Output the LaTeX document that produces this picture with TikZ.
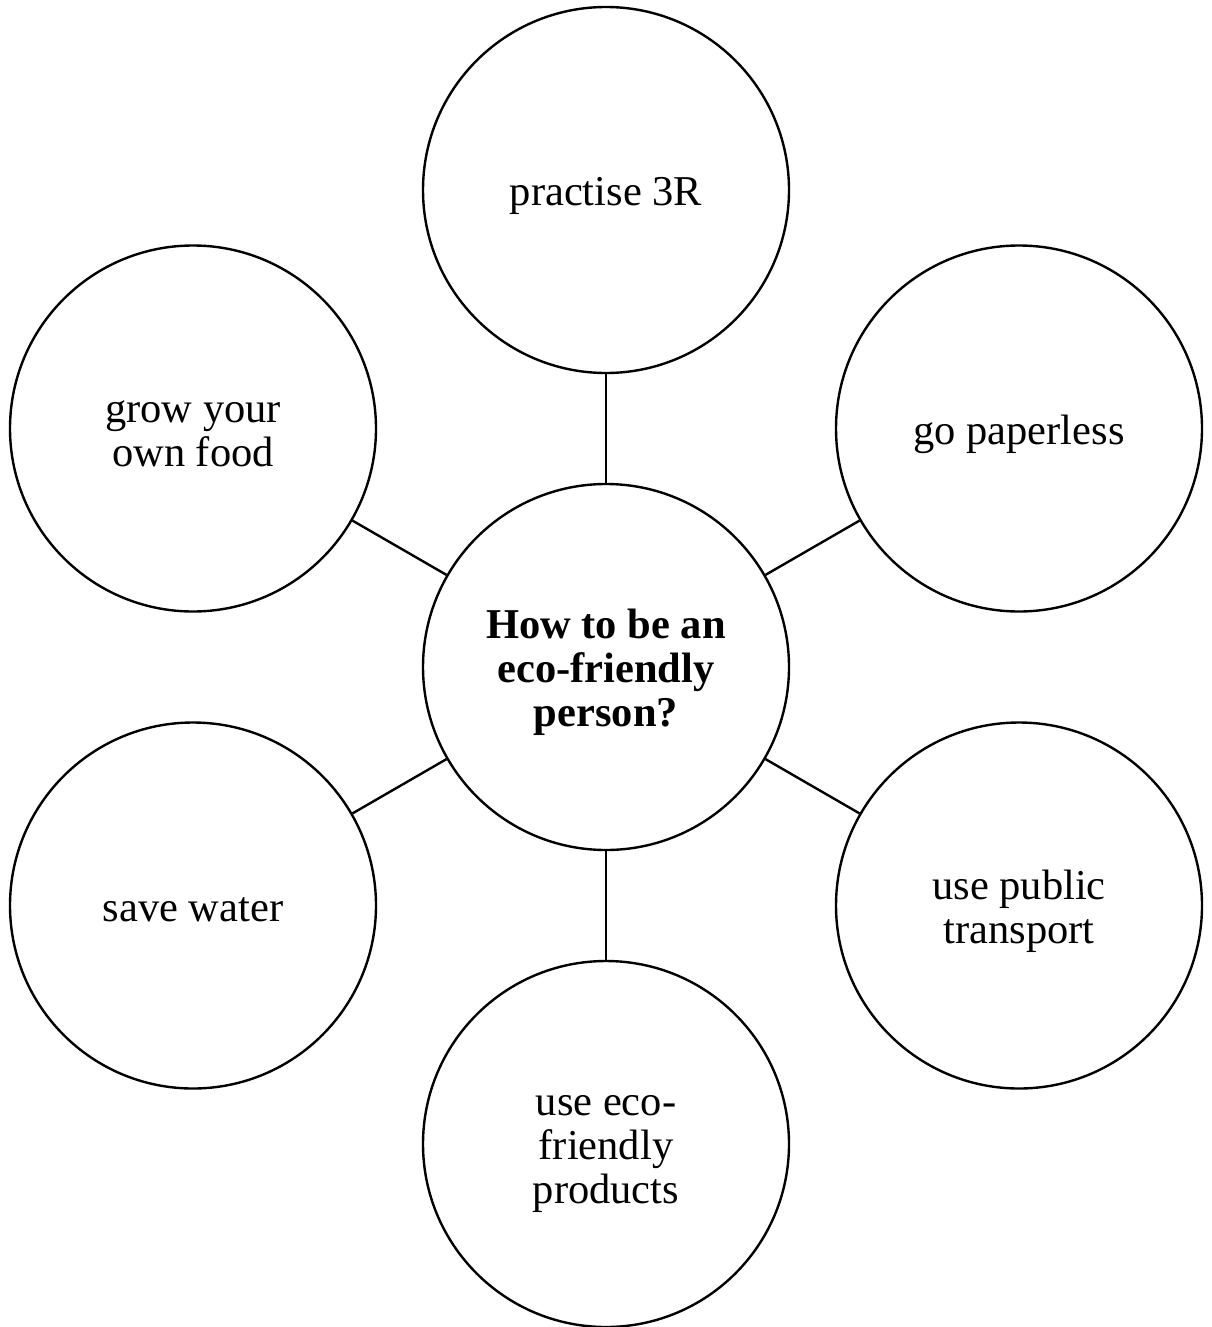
\documentclass[tikz,border=0pt]{standalone}
\usepackage{fontspec}
\setmainfont{Liberation Serif}
\newcommand{\lowtext}[1]{\raisebox{-7pt}[\height][\depth]{\begin{tabular}{@{}c@{}}#1\end{tabular}}}
\begin{document}
\begin{tikzpicture}[x=1pt,y=-1pt,
  bubble/.style={circle,draw,line width=2.4pt,minimum size=366pt,inner sep=0pt,
    align=center,font=\fontsize{42.5}{44}\selectfont},
  hub/.style={bubble,font=\fontsize{42.5}{44}\selectfont\bfseries},
  link/.style={line width=2.4pt}]
\useasboundingbox (0,0) rectangle (1211,1327);
\node[hub] (c) at (606,667) {\lowtext{How to be an\\eco-friendly\\person?}};
\node[bubble] (t) at (606,190) {\lowtext{practise 3R}};
\node[bubble] (ur) at (1019,428.5) {\lowtext{go paperless}};
\node[bubble] (lr) at (1019,905.5) {\lowtext{use public\\transport}};
\node[bubble] (b) at (606,1144) {\lowtext{use eco-\\friendly\\products}};
\node[bubble] (ll) at (193,905.5) {\lowtext{save water}};
\node[bubble] (ul) at (193,428.5) {\lowtext{grow your\\own food}};
\foreach \n in {t,ur,lr,b,ll,ul} \draw[link] (c) -- (\n);
\end{tikzpicture}
\end{document}
